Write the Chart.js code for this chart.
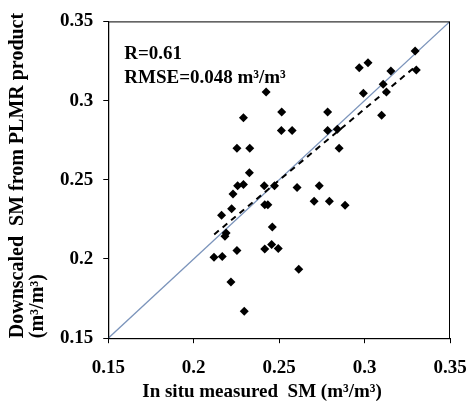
<!DOCTYPE html>
<html>
<head>
<meta charset="utf-8">
<script src="https://cdn.jsdelivr.net/npm/chart.js@4/dist/chart.umd.min.js"></script>
<style>
  html, body { margin: 0; padding: 0; background: #fff; }
  #wrap { width: 468px; height: 401px; }
</style>
</head>
<body>
<div id="wrap"><canvas id="chart" width="468" height="401"></canvas></div>
<script>
// in situ vs downscaled soil moisture (m3/m3)
const insituSM = [
    0.3296, 0.3303, 0.2969, 0.3020, 0.3154, 0.3109, 0.3128, 0.2993, 0.3100, 0.2424,
    0.2515, 0.2784, 0.2291, 0.2513, 0.2576, 0.2784, 0.2841, 0.2851, 0.2253, 0.2328,
    0.2326, 0.2257, 0.2291, 0.2230, 0.2413, 0.2473, 0.2605, 0.2735, 0.2705, 0.2794,
    0.2886, 0.2222, 0.2163, 0.2416, 0.2434, 0.2460, 0.2190, 0.2183, 0.2119, 0.2167,
    0.2253, 0.2416, 0.2456, 0.2495, 0.2615, 0.2218, 0.2296
];
const downscaledSM = [
    0.3313, 0.3193, 0.3208, 0.3239, 0.3187, 0.3104, 0.3054, 0.3046, 0.2907, 0.3054,
    0.2928, 0.2928, 0.2892, 0.2812, 0.2812, 0.2812, 0.2819, 0.2699, 0.2699, 0.2699,
    0.2545, 0.2463, 0.2470, 0.2410, 0.2463, 0.2463, 0.2451, 0.2463, 0.2364, 0.2364,
    0.2339, 0.2318, 0.2276, 0.2343, 0.2343, 0.2202, 0.2164, 0.2143, 0.2011, 0.2016,
    0.2053, 0.2063, 0.2091, 0.2066, 0.1935, 0.1855, 0.1670
];

// 1:1 line and fitted (dashed) line
const oneToOne = [0.15, 0.35];
const fitSlope = 0.90;
const fitIntercept = 0.0247;
const fitRange = [0.212, 0.330];

const tickValues = [0.15, 0.2, 0.25, 0.3, 0.35];
const tickLabels = ['0.15', '0.2', '0.25', '0.3', '0.35'];

const statLines = ['R=0.61', 'RMSE=0.048 m\u00b3/m\u00b3'];
const xTitle = 'In situ measured  SM (m\u00b3/m\u00b3)';
const yTitle = ['Downscaled  SM from PLMR product', '(m\u00b3/m\u00b3)'];

const serif = '"Liberation Serif", "Times New Roman", serif';

const points = insituSM.map((x, i) => ({ x: x, y: downscaledSM[i] }));
const fitLine = fitRange.map(x => ({ x: x, y: fitSlope * x + fitIntercept }));
const idLine = oneToOne.map(v => ({ x: v, y: v }));

function setTicks(scale) {
    scale.ticks = tickValues.map(v => ({ value: v }));
}

const extras = {
    id: 'extras',
    afterDraw(chart) {
        const ctx = chart.ctx;
        const a = chart.chartArea;
        ctx.save();
        // plot box
        ctx.strokeStyle = '#000';
        ctx.lineWidth = 1;
        ctx.strokeRect(a.left + 0.5, a.top + 0.5, a.right - a.left - 1, a.bottom - a.top);
        // stats text
        ctx.fillStyle = '#000';
        ctx.font = 'bold 19px ' + serif;
        ctx.textAlign = 'left';
        ctx.textBaseline = 'alphabetic';
        ctx.fillText(statLines[0], a.left + 16, a.top + 38);
        ctx.fillText(statLines[1], a.left + 16, a.top + 62);
        // x axis title
        ctx.textAlign = 'center';
        ctx.fillText(xTitle, a.left + (a.right - a.left) * 0.45, chart.height - 4);
        ctx.restore();
    }
};

new Chart(document.getElementById('chart'), {
    type: 'scatter',
    data: {
        datasets: [{
            label: 'SM',
            data: points,
            pointStyle: 'rectRot',
            pointRadius: 4.5,
            pointHoverRadius: 4.5,
            backgroundColor: '#000',
            borderColor: '#000',
            borderWidth: 0
        }, {
            type: 'line',
            label: 'fit',
            data: fitLine,
            borderColor: '#000',
            borderWidth: 2,
            borderDash: [6, 5],
            pointRadius: 0,
            fill: false
        }, {
            type: 'line',
            label: '1:1',
            data: idLine,
            borderColor: '#7b94bb',
            borderWidth: 1.2,
            pointRadius: 0,
            fill: false
        }]
    },
    options: {
        responsive: false,
        animation: false,
        layout: { padding: { top: 10, right: 0, bottom: 9, left: 0 } },
        plugins: {
            legend: { display: false },
            tooltip: { enabled: false }
        },
        scales: {
            x: {
                type: 'linear',
                min: 0.15,
                max: 0.35,
                afterBuildTicks: setTicks,
                // last label may hang past the plot, like the original
                afterFit: s => { s.paddingRight = 18; },
                border: { display: true, color: '#000', width: 1 },
                grid: { drawOnChartArea: false, drawTicks: true, tickLength: 5, color: '#000' },
                ticks: {
                    color: '#000',
                    padding: 13,
                    font: { family: serif, size: 19, weight: 'bold' },
                    callback: (v, i) => tickLabels[i]
                }
            },
            y: {
                type: 'linear',
                min: 0.15,
                max: 0.35,
                afterBuildTicks: setTicks,
                border: { display: true, color: '#000', width: 1 },
                grid: { drawOnChartArea: false, drawTicks: true, tickLength: 5, color: '#000' },
                ticks: {
                    color: '#000',
                    padding: 10,
                    font: { family: serif, size: 19, weight: 'bold' },
                    callback: (v, i) => tickLabels[i]
                },
                title: {
                    display: true,
                    text: yTitle,
                    align: 'start',
                    color: '#000',
                    font: { family: serif, size: 20, weight: 'bold', lineHeight: 1.0 },
                    padding: { top: 8, bottom: 2 }
                }
            }
        }
    },
    plugins: [extras]
});
</script>
</body>
</html>
